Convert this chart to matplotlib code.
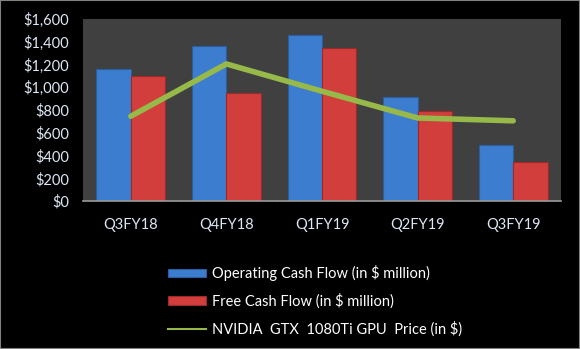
import numpy as np
import matplotlib.pyplot as plt
from matplotlib.ticker import FuncFormatter
from matplotlib.lines import Line2D

plt.rcParams['font.family'] = ['Lato', 'DejaVu Sans']

quarters = ['Q3FY18', 'Q4FY18', 'Q1FY19', 'Q2FY19', 'Q3FY19']
operating_cf = [1160, 1360, 1460, 915, 490]
free_cf = [1100, 950, 1345, 790, 345]
gpu_price = [745, 1205, 965, 730, 705]

fig = plt.figure(figsize=(5.8, 3.49), dpi=100, facecolor='black')
ax = fig.add_axes([83 / 580, 1 - 201 / 349, (561 - 83) / 580, (201 - 19) / 349])
ax.set_facecolor('#404040')

x = np.arange(len(quarters))
w = 0.36
b1 = ax.bar(x - w / 2, operating_cf, w, color='#3c7dd0', edgecolor='#2b5e9e',
            linewidth=0.8, zorder=2)
b2 = ax.bar(x + w / 2, free_cf, w, color='#d13e3b', edgecolor='#9c2a28',
            linewidth=0.8, zorder=2)
ax.plot(x, gpu_price, color='#97b94a', linewidth=4, solid_capstyle='round', zorder=3)

ax.set_xlim(-0.5, len(quarters) - 0.5)
ax.set_ylim(0, 1600)
ax.set_yticks(range(0, 1601, 200))
ax.yaxis.set_major_formatter(FuncFormatter(lambda v, p: f'${v:,.0f}'))
ax.set_xticks(x)
ax.set_xticklabels(quarters)
ax.tick_params(axis='both', length=0, colors='#dde8f5', labelsize=10.5)
ax.tick_params(axis='y', pad=10)
ax.tick_params(axis='x', pad=12)
for side in ['top', 'right', 'left']:
    ax.spines[side].set_visible(False)
ax.spines['bottom'].set_color('#9a9a9a')
ax.spines['bottom'].set_linewidth(1.2)

handles = [b1, b2, Line2D([], [], color='#97b94a', linewidth=1.5)]
labels = ['Operating Cash Flow (in $ million)', 'Free Cash Flow (in $ million)',
          'NVIDIA  GTX  1080Ti GPU  Price (in $)']
fig.legend(handles, labels, loc='upper left', bbox_to_anchor=(155 / 580, 1 - 252 / 349),
           frameon=False, labelcolor='white', fontsize=10.5,
           handlelength=2.6, handleheight=0.5, handletextpad=0.4, labelspacing=0.85)

fig.patches.append(plt.Rectangle((0, 0), 1, 1, transform=fig.transFigure,
                                 fill=False, edgecolor='#808080', linewidth=1.5))
fig.savefig('out.png', dpi=100, facecolor='black')
